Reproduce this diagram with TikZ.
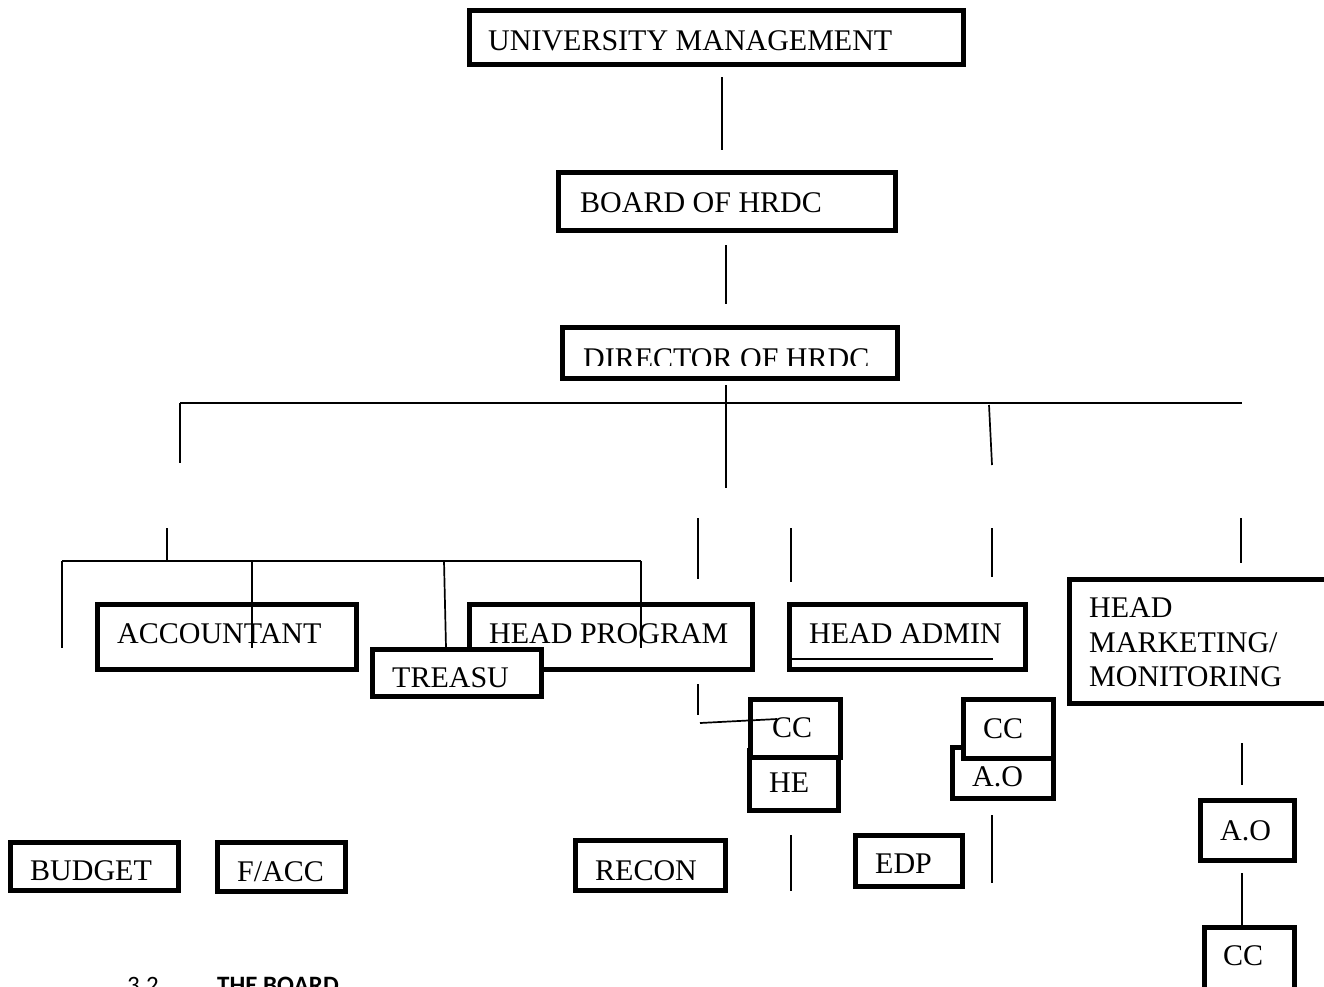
\documentclass[tikz,border=0pt]{standalone}
\usepackage{fontspec}
\setmainfont{Liberation Serif}
\newfontfamily\calfont{Carlito}
\tikzset{
  box/.style={draw, line width=5pt, fill=white, rectangle, inner sep=0pt, outer sep=0pt, anchor=north west},
  ln/.style={line width=1.7pt},
  lbl/.style={anchor=base west, inner sep=0pt, font=\fontsize{30}{34}\selectfont},
}
\newcommand{\bx}[5]{\node[box, minimum width=#4pt-#2pt, minimum height=#5pt-#3pt] (#1) at (#2,#3) {};}
\begin{document}
\begin{tikzpicture}[x=1pt,y=-1pt]
\clip (0,0) rectangle (1324,986);
\fill[white] (0,0) rectangle (1324,986);
% top chain
\bx{um}{469}{10}{963}{64}
\node[lbl] (tum) at (488,50) {UNIVERSITY MANAGEMENT};
\draw[ln] (722,77) -- (722,150);
\bx{board}{558}{172}{895}{230}
\node[lbl] (tboard) at (580,212) {BOARD OF HRDC};
\draw[ln] (726,245) -- (726,304);
\bx{dir}{562}{327}{897}{378}
\begin{scope}
\clip (570,330) rectangle (890,365.5);
\node[lbl] (tdir) at (583,368) {DIRECTOR OF HRDC};
\end{scope}
\draw[ln] (726,385) -- (726,488);
\draw[ln] (180,403) -- (1242,403);
\draw[ln] (180,403) -- (180,463);
\draw[ln] (989,405) -- (992,465);
% second level lines
\draw[ln] (167,528) -- (167,561);
\draw[ln] (62,561) -- (641,561);
\draw[ln] (62,561) -- (62,648);
\draw[ln] (698,518) -- (698,579);
\draw[ln] (791,528) -- (791,582);
\draw[ln] (992,528) -- (992,577);
\draw[ln] (1241,518) -- (1241,563);
% accountant
\bx{acc}{97}{604}{356}{669}
\node[lbl] (tacc) at (117,643) {ACCOUNTANT};
\draw[ln] (252,561) -- (252,648);
\draw[ln] (444,561) -- (446,648);
% head program
\bx{hp}{469}{604}{752}{669}
\node[lbl] (thp) at (489,643) {HEAD PROGRAM};
\bx{tre}{372}{649}{541}{696}
\node[lbl] (ttre) at (392,687) {TREASU};
\draw[ln] (641,561) -- (641,648);
% head admin
\bx{ha}{789}{604}{1025}{669}
\node[lbl] (tha) at (809,643) {HEAD ADMIN};
\draw[ln] (791,659) -- (993,659);
% head marketing
\bx{hm}{1069}{579}{1340}{703}
\node[lbl] (thm1) at (1089,617) {HEAD};
\node[lbl] (thm2) at (1089,652) {MARKETING/};
\node[lbl] (thm3) at (1089,686) {MONITORING};
% program sub
\draw[ln] (698,684) -- (698,715);
\bx{he}{749}{750}{838}{810}
\node[lbl] (the) at (769,792) {HE};
\bx{cca}{750}{699}{840}{757}
\node[lbl] (tcca) at (772,737) {CC};
\draw[ln] (700,723) -- (777,719);
\draw[ln] (791,835) -- (791,891);
% admin sub
\bx{aoa}{952}{747}{1053}{798}
\node[lbl] (taoa) at (972,786) {A.O};
\bx{ccb}{963}{699}{1053}{758}
\node[lbl] (tccb) at (983,738) {CC};
\draw[ln] (992,815) -- (992,883);
% marketing sub
\draw[ln] (1242,743) -- (1242,785);
\bx{aob}{1200}{800}{1294}{860}
\node[lbl] (taob) at (1220,840) {A.O};
\draw[ln] (1242,873) -- (1242,925);
\bx{ccc}{1204}{927}{1294}{1000}
\node[lbl] (tccc) at (1223,965) {CC};
% bottom row
\bx{bud}{10}{842}{178}{890}
\node[lbl] (tbud) at (30,880) {BUDGET};
\bx{facc}{217}{842}{345}{891}
\node[lbl] (tfacc) at (237,881) {F/ACC};
\bx{rec}{575}{840}{725}{890}
\node[lbl] (trec) at (595,880) {RECON};
\bx{edp}{855}{835}{962}{886}
\node[lbl] (tedp) at (875,873) {EDP};
% caption (cut by the lower edge, as in the reference)
\node[anchor=base west, inner sep=0pt, font=\calfont\fontsize{25}{28}\selectfont] (cap1) at (127,993) {3.2};
\node[anchor=base west, inner sep=0pt, font=\calfont\bfseries\fontsize{25}{28}\selectfont] (cap2) at (217,993) {THE BOARD};
\end{tikzpicture}
\end{document}
